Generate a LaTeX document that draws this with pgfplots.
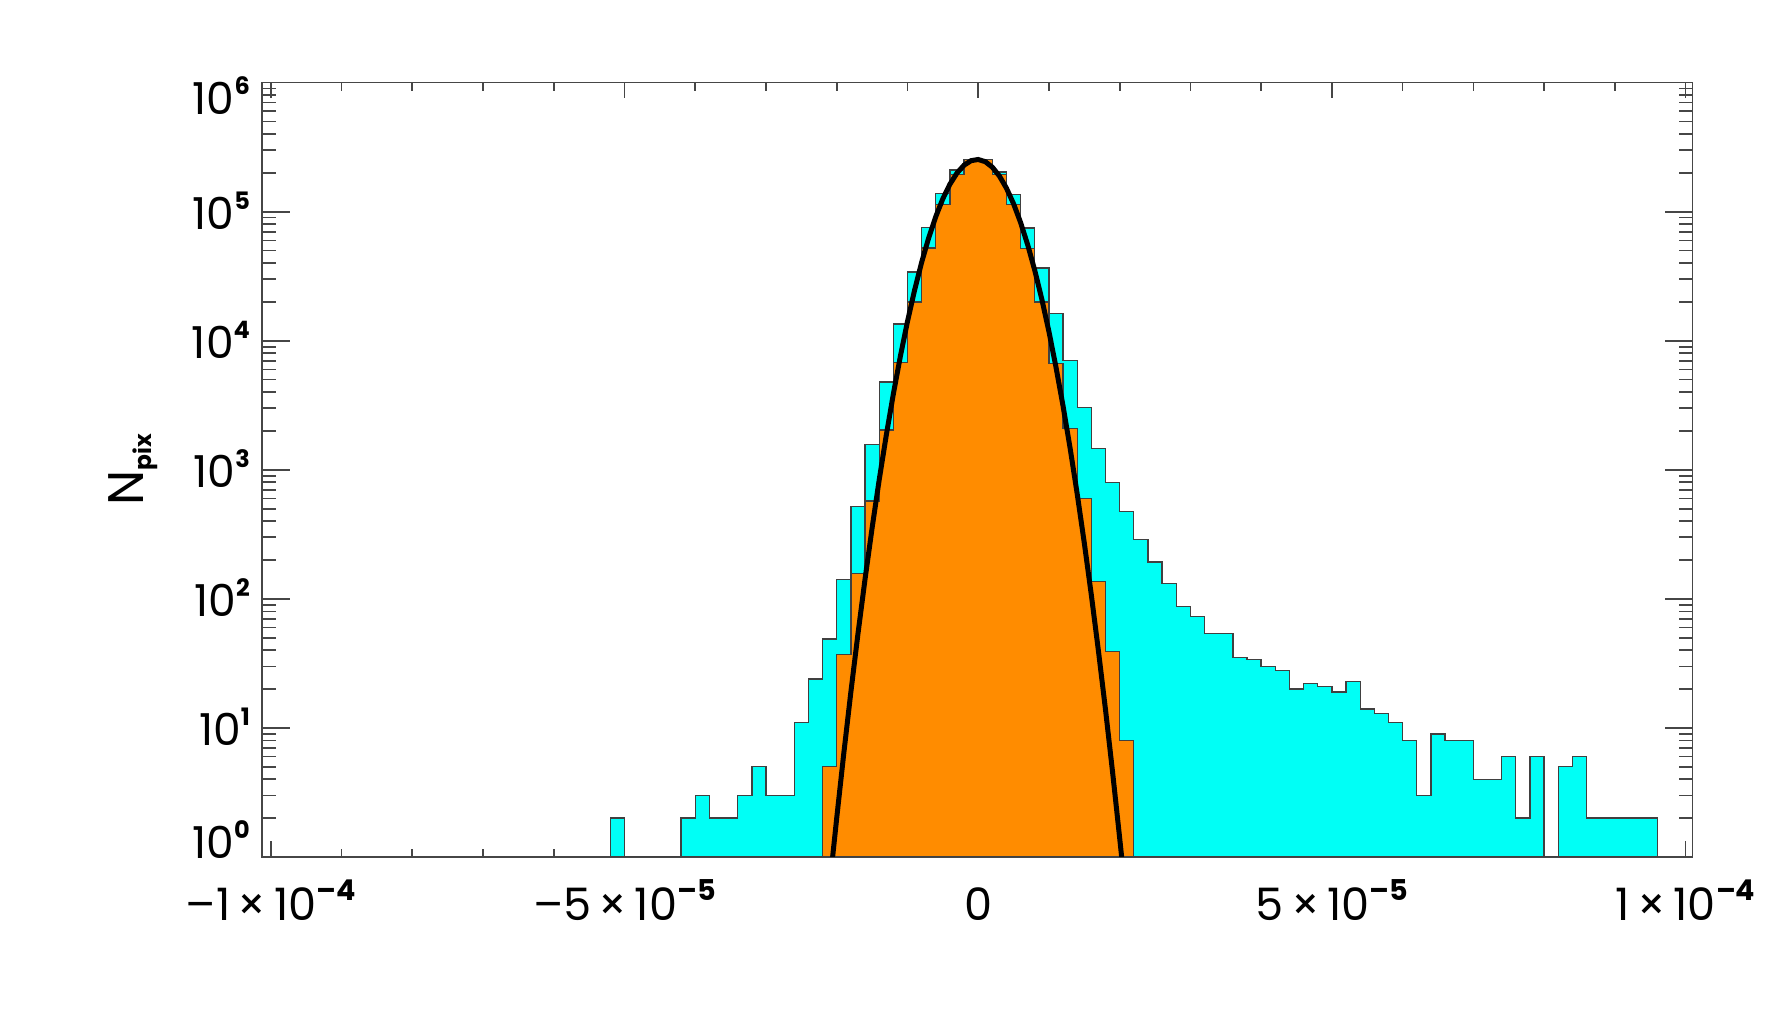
\documentclass[border=0pt]{standalone}
\usepackage{fontspec}
\setmainfont{Poppins}
\usepackage{pgfplots}
\pgfplotsset{compat=1.18}

\definecolor{histcyan}{RGB}{0,255,246}
\definecolor{historange}{RGB}{255,140,0}
\definecolor{framegray}{RGB}{70,70,70}

% superscripts of the tick labels
\newcommand\ysup[1]{\raisebox{6.0pt}{\fontsize{7.2}{7.5}\selectfont\bfseries #1}}
\newcommand\xsup[1]{\raisebox{6.2pt}{\fontsize{8.6}{9}\selectfont\bfseries #1}}

\begin{document}
\begin{tikzpicture}
\useasboundingbox (-78.7pt,-50.1pt) rectangle (452.6pt,257.1pt);
\begin{axis}[
  at={(0,0)}, anchor=south west,
  scale only axis, width=429.1pt, height=232.3pt,
  ymode=log, ymin=1, ymax=1e6,
  xmin=-101.2, xmax=101.0,
  axis line style={framegray, line width=0.5pt},
  tick style={framegray, line width=0.5pt},
  xtick={-100,-50,0,50,100},
  minor x tick num=4,
  xticklabels={–1\,×\,10\xsup{–4}, –5\,×\,10\xsup{–5}, 0, 5\,×\,10\xsup{–5}, 1\,×\,10\xsup{–4}},
  ytick={1,10,100,1000,10000,100000,1000000},
  yticklabels={\raisebox{4.8pt}{10\ysup{0}}, 10\ysup{1}, 10\ysup{2}, 10\ysup{3}, 10\ysup{4}, 10\ysup{5}, \raisebox{-4.2pt}{10\ysup{6}}},
  yticklabel style={font=\fontsize{13.2}{15}\selectfont, anchor=base east, yshift=-5.3pt, xshift=-0.2pt},
  xticklabel style={font=\fontsize{13.4}{15}\selectfont, anchor=base, yshift=-19.2pt},
  xtick style={/pgfplots/major tick length=4.7pt, /pgfplots/minor tick length=2.4pt},
  ytick style={/pgfplots/major tick length=8.4pt, /pgfplots/minor tick length=4.2pt},
  every axis y label/.style={at={(axis description cs:-0.0832,0.5)}, anchor=base, rotate=90},
  ylabel={\fontsize{15}{17}\selectfont N\raisebox{-2.5pt}{\fontsize{7}{8}\selectfont\bfseries pix}},
]

% all pixels
\addplot[const plot mark left, fill=histcyan, draw=black!75, line width=0.4pt] coordinates {
(-52,2) (-50,1) (-48,1) (-46,1) (-44,1) (-42,2) (-40,3) (-38,2) (-36,2) (-34,3)
(-32,5) (-30,3) (-28,3) (-26,11) (-24,24) (-22,49) (-20,142) (-18,517) (-16,1580)
(-14,4800) (-12,13450) (-10,34200) (-8,75500) (-6,138000) (-4,210000) (-2,254000)
(0,254000) (2,203000) (4,136000) (6,75000) (8,36700) (10,16200) (12,7000) (14,3030)
(16,1460) (18,795) (20,475) (22,288) (24,193) (26,131) (28,87) (30,73) (32,54)
(34,54) (36,35) (38,34) (40,30) (42,28) (44,20) (46,22) (48,21) (50,19) (52,23)
(54,14) (56,13) (58,11) (60,8) (62,3) (64,9) (66,8) (68,8) (70,4) (72,4) (74,6)
(76,2) (78,6) (80,1) (82,5) (84,6) (86,2) (88,2) (90,2) (92,2) (94,2) (96,1)
} \closedcycle;

% quiet pixels
\addplot[const plot mark left, fill=historange, draw=black!75, line width=0.4pt] coordinates {
(-22,5) (-20,37) (-18,158) (-16,572) (-14,2030) (-12,6790) (-10,20000) (-8,52400)
(-6,114000) (-4,194000) (-2,254000) (0,254000) (2,194000) (4,114000) (6,52100)
(8,20000) (10,6670) (12,2100) (14,600) (16,136) (18,39) (20,8) (22,1)
} \closedcycle;

% gaussian fit
\addplot[black, line width=1.5pt] coordinates {
(-20.58,1) (-20,2.005) (-19,6.36) (-18,19.0) (-17,53.5) (-16,141.8) (-15,354.1)
(-14,833.3) (-13,1847) (-12,3858) (-11,7593) (-10,14077) (-9,24577) (-8,40443)
(-7,62693) (-6,91540) (-5,125950) (-4,163280) (-3,199300) (-2,229400) (-1,248600)
(0,253850) (1,244200) (2,221300) (3,188950) (4,152000) (5,115200) (6,82220)
(7,55330) (8,35050) (9,20920) (10,11770) (11,6233) (12,3113) (13,1464) (14,648.4)
(15,270.7) (16,106.5) (17,39.4) (18,13.8) (19,4.53) (20,1.40) (20.28,1)
};
\end{axis}
\end{tikzpicture}
\end{document}
